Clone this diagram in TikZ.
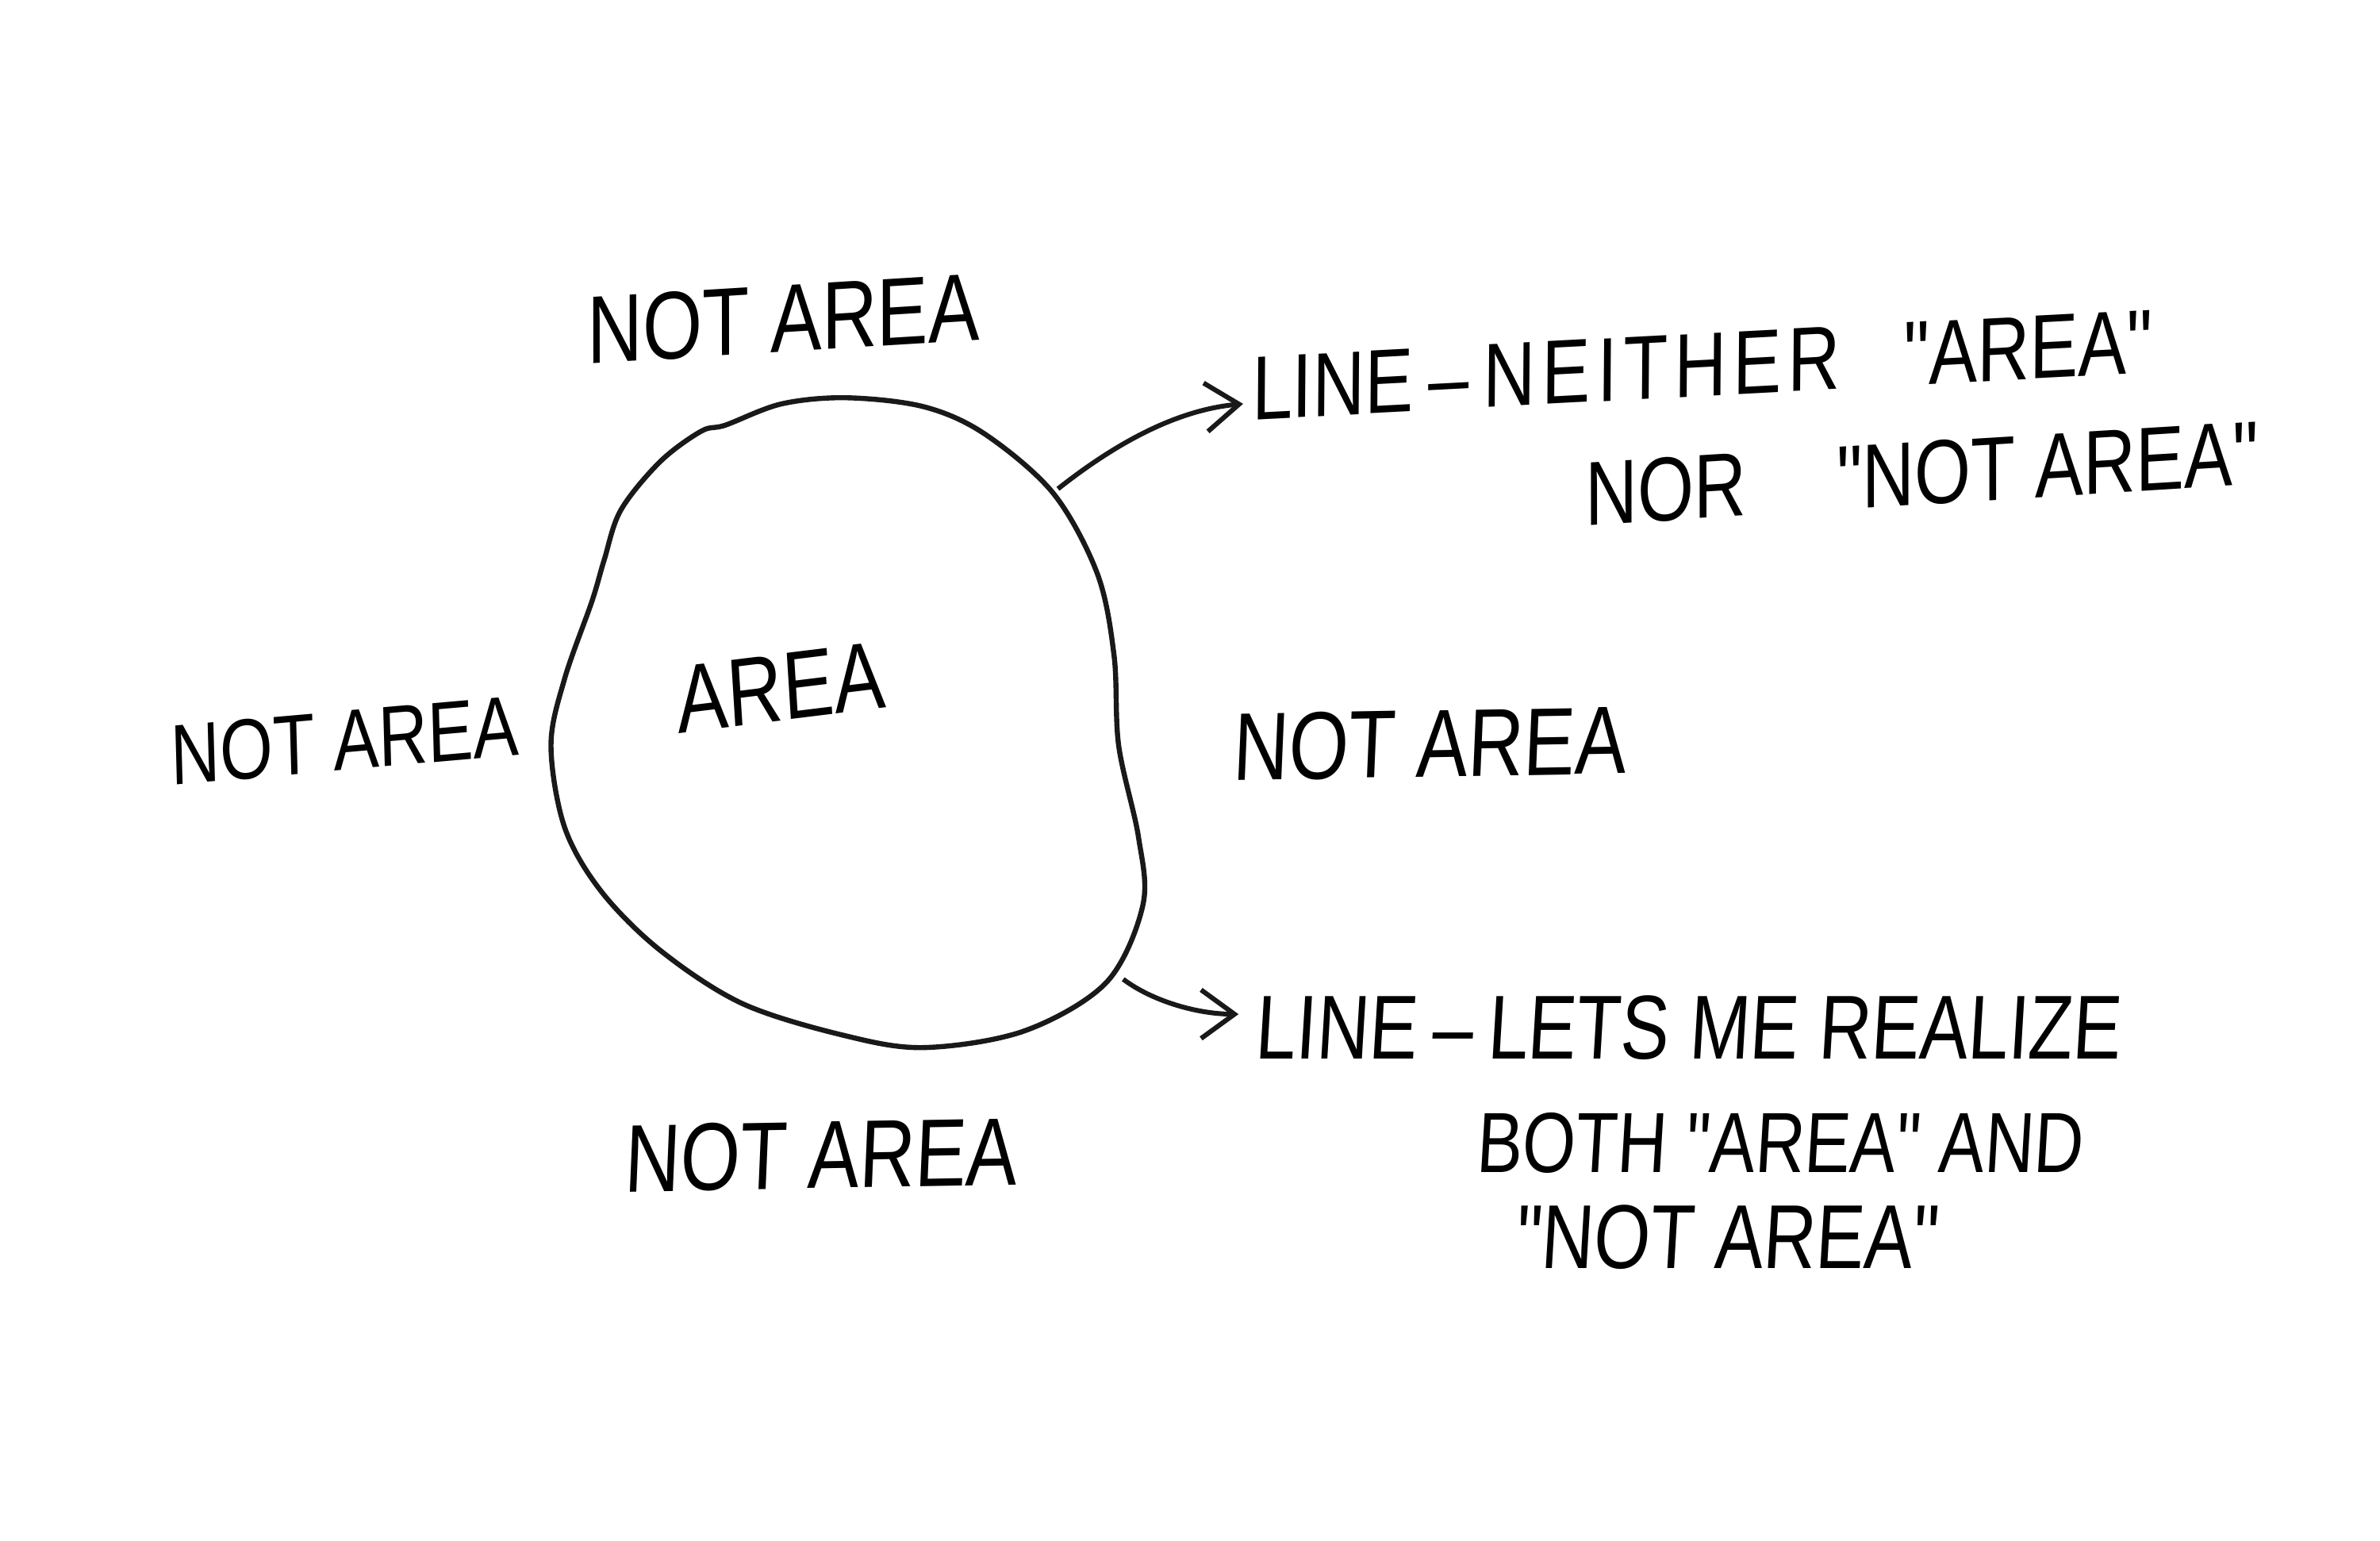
\documentclass[tikz,border=0pt]{standalone}
\usepackage{fontspec}
\newfontfamily\hand[FakeStretch=0.8,FakeSlant=0.06]{Liberation Sans}
\usetikzlibrary{arrows.meta}
\tikzset{
  lbl/.style={font=\hand\fontsize{18}{22}\selectfont, inner sep=0pt, text=black},
  smaller/.style={font=\hand\fontsize{17}{20}\selectfont},
  blobline/.style={line width=0.95pt, draw=black!90},
  arr/.style={line width=0.9pt, draw=black!90, -{Straight Barb[length=2.2mm,width=3.2mm,line width=0.9pt]}}
}
\newcommand{\lk}{\kern1.2pt}
\begin{document}
\begin{tikzpicture}[x=0.01cm,y=-0.01cm]
\useasboundingbox[fill=white] (0,0) rectangle (1568,1015);
% blob
\draw[blobline] plot[smooth cycle, tension=0.55] coordinates {
 (558,262) (515,266) (478,280) (462,284) (435,304) (409,336) (398,369) (390,396)
 (372,447) (363,491) (372,545) (396,587) (435,626) (489,661) (556,682) (609,690)
 (675,679) (729,647) (753,596) (750,551) (737,491) (734,432) (723,378) (694,325)
 (649,286) (609,268)};
% labels
\node[lbl, rotate=3.5] (top) at (515,210) {NOT AREA};
\node[lbl, rotate=7] (area) at (513,453) {AREA};
\node[lbl, rotate=5, font=\hand\fontsize{16}{20}\selectfont] (left) at (226,488) {NOT AREA};
\node[lbl, rotate=1] (right) at (941,490) {NOT AREA};
\node[lbl, rotate=1] (bottom) at (540,761) {NOT AREA};
\node[lbl, smaller, rotate=3, anchor=west] (l1) at (823,256) {LINE\,–\,N\lk E\lk I\lk T\lk H\lk E\lk R\hspace{0.7em}"AREA"};
\node[lbl, smaller, rotate=3.5] (l2) at (1265,312) {NOR\hspace{1em}"NOT AREA"};
\node[lbl, smaller, anchor=west] (l3) at (826,677) {LINE\,–\,LETS ME REALIZE};
\node[lbl, font=\hand\fontsize{16}{20}\selectfont] (l4) at (1172,753) {BOTH "AREA" AND};
\node[lbl, smaller] (l5) at (1137,815) {"NOT AREA"};
% connectors
\coordinate (s1) at (697,322);
\coordinate (t1) at (819,266);
\coordinate (s2) at (740,645);
\coordinate (t2) at (816,668);
\draw[arr] (s1) .. controls (735,292) and (775,270) .. (t1);
\draw[arr] (s2) .. controls (760,660) and (790,668) .. (t2);
\end{tikzpicture}
\end{document}
